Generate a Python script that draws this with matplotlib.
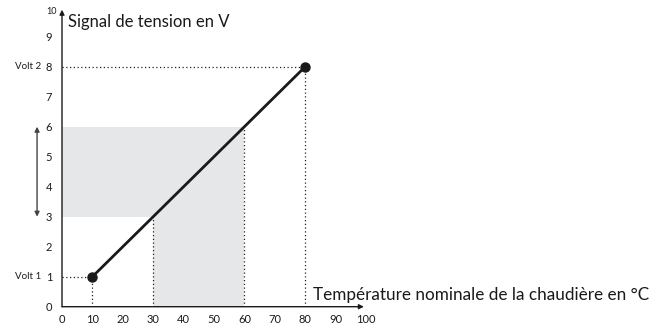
import matplotlib
matplotlib.use('Agg')
import matplotlib.pyplot as plt

# Characteristic curve: temperature (C) vs voltage (V)
curve_temp = [10, 80]
curve_volt = [1, 8]

# Shaded operating band
band_volt = [3, 6]
band_temp = [30, 60]

x_ticks = [0, 10, 20, 30, 40, 50, 60, 70, 80, 90, 100]
y_ticks = [0, 1, 2, 3, 4, 5, 6, 7, 8, 9]
volt_labels = ['Volt 1', 'Volt 2']

plt.rcParams['font.family'] = ['Lato', 'DejaVu Sans']

fig = plt.figure(figsize=(6.51, 3.26), dpi=100)
ax = fig.add_axes([62 / 651, 19.3 / 326, 304 / 651, 300 / 326])
ax.set_xlim(0, 100)
ax.set_ylim(0, 10)

grey = '#e6e7e9'
# L-shaped shaded area
ax.fill_between([0, band_temp[1]], band_volt[0], band_volt[1], color=grey, lw=0, zorder=1)
ax.fill_between(band_temp, 0, band_volt[0], color=grey, lw=0, zorder=1)

# dotted guide lines
dot = dict(color='#222222', lw=0.9, ls=(0, (1, 2)), zorder=2)
ax.plot([0, curve_temp[0]], [curve_volt[0]] * 2, **dot)
ax.plot([curve_temp[0]] * 2, [0, curve_volt[0]], **dot)
ax.plot([0, curve_temp[1]], [curve_volt[1]] * 2, **dot)
ax.plot([curve_temp[1]] * 2, [0, curve_volt[1]], **dot)
ax.plot([band_temp[0]] * 2, [0, band_volt[0]], **dot)
ax.plot([band_temp[1]] * 2, [0, band_volt[1]], **dot)

# the curve
ax.plot(curve_temp, curve_volt, color='#1a1a1a', lw=2, marker='o', ms=6.5, zorder=4)

# axes with arrows
for s in ['top', 'right', 'left', 'bottom']:
    ax.spines[s].set_visible(False)
ax.annotate('', xy=(0, 9.9), xytext=(0, 0), annotation_clip=False,
            arrowprops=dict(arrowstyle='-|>', lw=1, color='#1a1a1a', mutation_scale=7, shrinkA=0, shrinkB=0))
ax.annotate('', xy=(99.3, 0), xytext=(0, 0), annotation_clip=False,
            arrowprops=dict(arrowstyle='-|>', lw=1, color='#1a1a1a', mutation_scale=7, shrinkA=0, shrinkB=0))

ax.set_xticks(x_ticks)
ax.set_yticks(y_ticks)
ax.tick_params(length=0, labelsize=8, colors='#1a1a1a')
ax.tick_params(axis='x', pad=5)
ax.tick_params(axis='y', pad=7)
ax.text(-1.8, 9.85, '10', fontsize=6.5, ha='right', va='center', color='#1a1a1a')

# Volt labels
for v, lab in zip(curve_volt, volt_labels):
    ax.text(-6.8, v, lab, fontsize=7, ha='right', va='center', color='#1a1a1a', clip_on=False)

# double arrow on the left marking the band
ax.annotate('', xy=(-8.2, band_volt[1]), xytext=(-8.2, band_volt[0]), annotation_clip=False,
            arrowprops=dict(arrowstyle='<|-|>', lw=1, color='#444444', mutation_scale=7, shrinkA=0, shrinkB=0))

ax.text(2, 9.5, 'Signal de tension en V', fontsize=12, ha='left', va='center', color='#1a1a1a')
ax.text(82.5, 0.4, 'Température nominale de la chaudière en °C', fontsize=12.3,
        ha='left', va='center', color='#1a1a1a', clip_on=False)

fig.savefig('out.png', dpi=100)
